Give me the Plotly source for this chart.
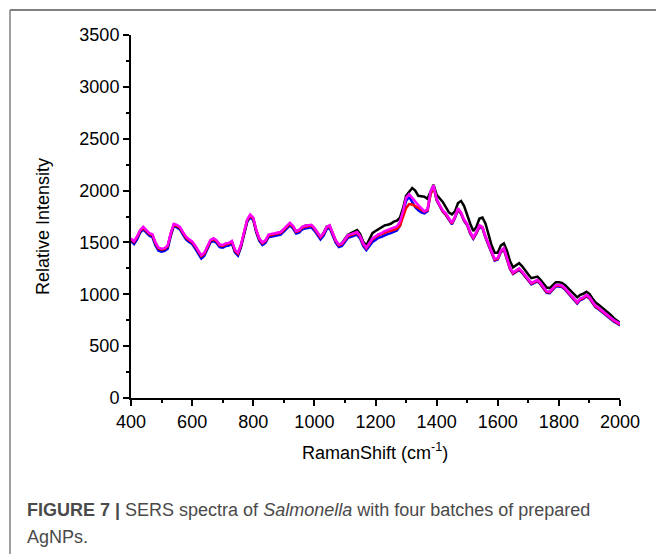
import plotly.graph_objects as go

raman_shift = list(range(400, 2001, 10))

black = [
    1530,1500,1550,1610,1640,1605,1580,1570,1490,1440,
    1430,1435,1460,1580,1670,1655,1640,1590,1545,1520,
    1500,1460,1410,1365,1390,1460,1515,1530,1510,1475,
    1465,1485,1490,1505,1420,1390,1470,1590,1710,1760,
    1730,1610,1530,1495,1515,1565,1575,1585,1590,1600,
    1625,1655,1680,1650,1605,1615,1645,1660,1665,1665,
    1635,1595,1550,1590,1650,1660,1595,1515,1475,1490,
    1535,1575,1590,1605,1620,1580,1505,1470,1530,1590,
    1610,1630,1650,1665,1670,1680,1700,1710,1740,1830,
    1950,1990,2025,2000,1950,1945,1940,1920,1980,2055,
    1960,1930,1890,1840,1790,1770,1800,1880,1900,1850,
    1760,1680,1610,1650,1730,1740,1680,1570,1470,1400,
    1400,1470,1490,1420,1320,1260,1280,1300,1270,1225,
    1190,1155,1165,1170,1140,1100,1065,1060,1090,1115,
    1115,1110,1090,1060,1025,990,970,995,1005,1025,
    1005,960,920,900,875,850,830,800,770,750,
    725,
]

red = [
    1530,1505,1550,1612,1640,1612,1582,1570,1492,1442,
    1432,1438,1462,1580,1670,1660,1642,1592,1547,1522,
    1502,1462,1412,1368,1392,1462,1517,1532,1512,1472,
    1467,1482,1487,1507,1422,1392,1472,1592,1712,1760,
    1730,1612,1532,1492,1512,1567,1572,1582,1582,1592,
    1622,1652,1680,1652,1602,1612,1642,1652,1657,1662,
    1632,1592,1547,1582,1642,1657,1592,1512,1472,1482,
    1522,1562,1572,1582,1592,1552,1482,1442,1482,1530,
    1550,1570,1580,1595,1605,1612,1620,1630,1660,1740,
    1830,1870,1865,1850,1835,1815,1795,1810,1960,2040,
    1910,1850,1800,1770,1730,1682,1742,1822,1782,1712,
    1672,1592,1542,1592,1657,1642,1552,1472,1392,1332,
    1342,1412,1437,1352,1250,1200,1222,1242,1212,1172,
    1142,1102,1117,1132,1102,1062,1022,1017,1052,1082,
    1082,1077,1052,1017,982,942,917,952,962,987,
    967,922,882,862,837,812,792,767,742,727,
    707,
]

blue = [
    1515,1485,1530,1595,1625,1595,1565,1550,1470,1420,
    1410,1418,1440,1560,1655,1645,1625,1575,1530,1505,
    1485,1440,1390,1345,1372,1445,1500,1515,1495,1455,
    1450,1465,1470,1490,1405,1372,1455,1575,1695,1745,
    1715,1595,1515,1475,1495,1550,1555,1565,1565,1575,
    1605,1635,1665,1635,1585,1595,1625,1635,1640,1645,
    1615,1575,1530,1565,1625,1640,1575,1495,1455,1465,
    1505,1545,1555,1565,1575,1535,1465,1425,1460,1505,
    1525,1545,1555,1570,1580,1590,1600,1615,1660,1770,
    1900,1940,1890,1840,1810,1790,1780,1800,1970,2040,
    1905,1845,1795,1765,1725,1675,1735,1815,1775,1705,
    1665,1585,1535,1585,1650,1635,1545,1465,1385,1325,
    1335,1405,1430,1345,1245,1195,1215,1235,1205,1165,
    1135,1095,1110,1125,1095,1055,1015,1010,1045,1075,
    1075,1070,1045,1010,975,935,910,945,955,980,
    960,915,875,855,830,805,785,760,735,720,
    700,
]

magenta = [
    1540,1510,1560,1620,1650,1620,1590,1580,1500,1450,
    1440,1445,1470,1590,1680,1670,1650,1600,1555,1530,
    1510,1470,1420,1375,1400,1470,1525,1540,1520,1480,
    1475,1490,1495,1515,1430,1400,1480,1600,1720,1770,
    1740,1620,1540,1500,1520,1575,1580,1590,1590,1600,
    1630,1660,1690,1660,1610,1620,1650,1660,1665,1670,
    1640,1600,1555,1590,1650,1665,1600,1520,1480,1490,
    1530,1570,1580,1590,1600,1560,1490,1450,1490,1540,
    1560,1580,1590,1610,1620,1630,1640,1655,1700,1800,
    1930,1965,1930,1890,1860,1830,1800,1820,1990,2050,
    1920,1860,1810,1780,1740,1690,1750,1830,1790,1720,
    1680,1600,1550,1600,1665,1650,1560,1480,1400,1340,
    1350,1420,1445,1360,1260,1210,1230,1250,1220,1180,
    1150,1110,1125,1140,1110,1070,1030,1025,1060,1090,
    1090,1085,1060,1025,990,950,925,960,970,995,
    975,930,890,870,845,820,800,775,750,735,
    715,
]

x_ticks = [400, 600, 800, 1000, 1200, 1400, 1600, 1800, 2000]
y_ticks = [0, 500, 1000, 1500, 2000, 2500, 3000, 3500]

FONT = "Arial, Liberation Sans, sans-serif"
FS = 18

fig = go.Figure()
for name, ys, col in [("blue", blue, "#0000FF"), ("black", black, "#000000"),
                      ("red", red, "#FF0000"), ("magenta", magenta, "#FF00FF")]:
    fig.add_trace(go.Scatter(x=raman_shift, y=ys, mode="lines", name=name,
                             line=dict(color=col, width=2.5), showlegend=False))

fig.update_layout(
    width=656, height=554,
    margin=dict(l=131, r=36, t=35, b=156),
    paper_bgcolor="white", plot_bgcolor="white",
    font=dict(family=FONT, size=FS, color="black"),
    showlegend=False,
)
fig.update_xaxes(
    range=[400, 2000], tickvals=x_ticks, ticktext=[str(v) for v in x_ticks],
    showgrid=False, zeroline=False, showline=True, linecolor="black", linewidth=2,
    ticks="outside", ticklen=6, tickwidth=2, tickcolor="black",
    tickfont=dict(size=FS, family=FONT),
    minor=dict(dtick=100, tick0=400, ticks="outside", ticklen=3, tickwidth=2, tickcolor="black"),
)
fig.update_yaxes(
    range=[0, 3500], tickvals=y_ticks, ticktext=[str(v) for v in y_ticks],
    showgrid=False, zeroline=False, showline=True, linecolor="black", linewidth=2,
    ticks="outside", ticklen=6, tickwidth=2, tickcolor="black",
    tickfont=dict(size=FS, family=FONT),
    minor=dict(dtick=250, tick0=0, ticks="outside", ticklen=3, tickwidth=2, tickcolor="black"),
)

def px_x(p):
    return (p - 131) / 489.0

def px_y(p):
    return (398 - p) / 363.0

annotations = [
    dict(text="Relative Intensity", x=px_x(43), y=px_y(227), textangle=-90,
         font=dict(size=FS, family=FONT, color="black")),
    dict(text="RamanShift (cm<sup>-1</sup>)", x=px_x(375), y=px_y(451),
         font=dict(size=FS, family=FONT, color="black")),
    dict(text="<b>FIGURE 7 |</b> SERS spectra of <i>Salmonella</i> with four batches of prepared",
         x=px_x(25), y=px_y(510), xanchor="left",
         font=dict(size=FS, family=FONT, color="#4a4a4a")),
    dict(text="AgNPs.", x=px_x(25), y=px_y(537), xanchor="left",
         font=dict(size=FS, family=FONT, color="#4a4a4a")),
]
for a in annotations:
    a.setdefault("xanchor", "center")
    a["xref"] = "paper"
    a["yref"] = "paper"
    a["yanchor"] = "middle"
    a["showarrow"] = False
fig.update_layout(annotations=annotations)

fig.update_layout(shapes=[
    dict(type="line", xref="paper", yref="paper", x0=px_x(10), x1=px_x(660),
         y0=px_y(10), y1=px_y(10), line=dict(color="#808080", width=2)),
    dict(type="line", xref="paper", yref="paper", x0=px_x(10), x1=px_x(10),
         y0=px_y(10), y1=px_y(560), line=dict(color="#808080", width=1.5)),
])

fig.write_html("out.html")
